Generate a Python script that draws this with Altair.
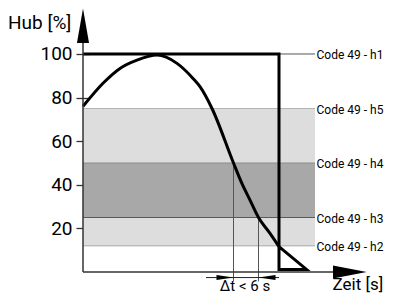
import altair as alt
import pandas as pd

# ---------------- data ----------------
# code levels (Hub %) and labels
code_labels = ["Code 49 - h1", "Code 49 - h5", "Code 49 - h4", "Code 49 - h3", "Code 49 - h2"]
code_levels = [100, 75, 50, 25, 12]

# shaded bands
band_lo = [12, 25, 50]
band_hi = [25, 50, 75]
band_fill = ["#dddddd", "#a8a8a8", "#dddddd"]

# thin band boundary lines (level, colour)
line_levels = [75, 50, 25, 12]
line_colors = ["#b4b4b4", "#8c8c8c", "#5a5a5a", "#a6a6a6"]

# stroke curve: time [s] vs Hub [%]
curve_t = [0, 4.0, 7.4, 10.8, 14.8, 18.8, 22.0, 23.4, 25.8, 30.1, 31.8, 33.4, 35.1, 37.4, 39.2]
curve_v = [76, 86.6, 93.4, 97.2, 99.5, 95.7, 88.8, 85, 75, 50, 40.5, 33, 25, 17.7, 11.6]

# thick set-point path (100 % step down, end triangle)
step_t = [0, 39.2, 39.2, 44.7, 39.2]
step_v = [100, 100, 1.2, 1.2, 11.6]

t_end = 46.4      # right end of bands / code lines
t_lab = 46.7      # code label start
t_h4 = 30.1       # curve crosses h4
t_h3 = 35.1       # curve crosses h3
v_dim = -2.55     # level of the delta-t dimension line

y_ticks = [20, 40, 60, 80, 100]

X_DOM = [0, 60.8]
Y_DOM = [-10.09, 121.1]
FONT = "Roboto"


def X(field):
    return alt.X(field, type="quantitative", scale=alt.Scale(domain=X_DOM, nice=False, zero=False), axis=None)


def Y(field):
    return alt.Y(field, type="quantitative",
                 scale=alt.Scale(domain=Y_DOM, nice=False, zero=False),
                 axis=alt.Axis(values=y_ticks, offset=-6, tickSize=13, tickWidth=1.3, tickColor="#333333",
                               domain=False, grid=False, labelFont=FONT, labelFontSize=19,
                               labelColor="#000000", labelPadding=4),
                 title=None)


# ---------------- layers ----------------
bands_df = pd.DataFrame({"t": [0] * 3, "t2": [t_end] * 3, "v": band_lo, "v2": band_hi, "c": band_fill})
bands = alt.Chart(bands_df).mark_rect().encode(
    x=X("t"), x2="t2", y=Y("v"), y2="v2", color=alt.Color("c:N", scale=None))

seg_t = [0] * 4 + [39.2]
seg_t2 = [t_end] * 5
seg_v = line_levels + [100]
seg_c = line_colors + ["#555555"]
segs_df = pd.DataFrame({"t": seg_t, "t2": seg_t2, "v": seg_v, "c": seg_c})
segs = alt.Chart(segs_df).mark_rule(strokeWidth=1).encode(
    x=X("t"), x2="t2", y=Y("v"), color=alt.Color("c:N", scale=None))

dim_df = pd.DataFrame({"t": [t_h4, t_h3], "v": [50, 25], "v2": [-4.3, -4.3]})
dims = alt.Chart(dim_df).mark_rule(strokeWidth=1, color="#555555").encode(
    x=X("t"), y=Y("v"), y2="v2")

dt_line_df = pd.DataFrame({"t": [24.6], "t2": [39.2], "v": [v_dim]})
dt_line = alt.Chart(dt_line_df).mark_rule(strokeWidth=1, color="#222222").encode(
    x=X("t"), x2="t2", y=Y("v"))

curve_df = pd.DataFrame({"t": curve_t, "v": curve_v})
curve = alt.Chart(curve_df).mark_line(interpolate="monotone", strokeWidth=3, color="#000000").encode(
    x=X("t"), y=Y("v"))

step_df = pd.DataFrame({"t": step_t, "v": step_v, "o": list(range(len(step_t)))})
step = alt.Chart(step_df).mark_line(strokeWidth=3, color="#000000", strokeJoin="miter").encode(
    x=X("t"), y=Y("v"), order="o:Q")

axes_df = pd.DataFrame({"t": [0, 0], "t2": [0, 51.4], "v": [0, 0], "v2": [106, 0]})
axes = alt.Chart(axes_df).mark_rule(strokeWidth=1.5, color="#333333").encode(
    x=X("t"), x2="t2", y=Y("v"), y2="v2")

yarrow = alt.Chart(pd.DataFrame({"t": [0], "v": [112.96]})).mark_point(
    shape="M0,-1L0.35,1L-0.35,1Z", size=1190, filled=True, opacity=1, color="#000000", strokeWidth=0
).encode(x=X("t"), y=Y("v"))

xarrow = alt.Chart(pd.DataFrame({"t": [53.37], "v": [0]})).mark_point(
    shape="M1,0L-1,-0.39L-1,0.39Z", size=1136, filled=True, opacity=1, color="#000000", strokeWidth=0
).encode(x=X("t"), y=Y("v"))

dt_r = alt.Chart(pd.DataFrame({"t": [t_h4 - 1.7], "v": [v_dim]})).mark_point(
    shape="M1,0L-1,-0.3L-1,0.3Z", size=289, filled=True, opacity=1, color="#000000", strokeWidth=0
).encode(x=X("t"), y=Y("v"))

dt_l = alt.Chart(pd.DataFrame({"t": [t_h3 + 1.7], "v": [v_dim]})).mark_point(
    shape="M-1,0L1,-0.3L1,0.3Z", size=289, filled=True, opacity=1, color="#000000", strokeWidth=0
).encode(x=X("t"), y=Y("v"))

codes_df = pd.DataFrame({"t": [t_lab] * 5, "v": code_levels, "txt": code_labels})
codes = alt.Chart(codes_df).mark_text(
    align="left", baseline="middle", font=FONT, fontSize=12, color="#000000", dy=1
).encode(x=X("t"), y=Y("v"), text="txt:N")

hub = alt.Chart(pd.DataFrame({"t": [-15.0], "v": [111.5], "txt": ["Hub [%]"]})).mark_text(
    align="left", baseline="alphabetic", font=FONT, fontSize=19, color="#000000"
).encode(x=X("t"), y=Y("v"), text="txt:N")

zeit = alt.Chart(pd.DataFrame({"t": [49.9], "v": [-8.05], "txt": ["Zeit [s]"]})).mark_text(
    align="left", baseline="alphabetic", font=FONT, fontSize=17, color="#000000"
).encode(x=X("t"), y=Y("v"), text="txt:N")

dt_text = alt.Chart(pd.DataFrame({"t": [32.4], "v": [-8.5], "txt": ["\u0394t < 6 s"]})).mark_text(
    align="center", baseline="alphabetic", font=FONT, fontSize=15, color="#000000"
).encode(x=X("t"), y=Y("v"), text="txt:N")

chart = alt.layer(
    bands, segs, dims, dt_line, curve, step, axes, yarrow, xarrow, dt_r, dt_l, codes, hub, zeit, dt_text
).properties(
    width=304, height=286,
    padding={"left": 75, "top": 0, "right": 0, "bottom": 0},
    autosize=alt.AutoSizeParams(type="none"),
).configure_view(strokeWidth=0)

chart.save("out.html", embed_options={"renderer": "svg", "actions": False})
